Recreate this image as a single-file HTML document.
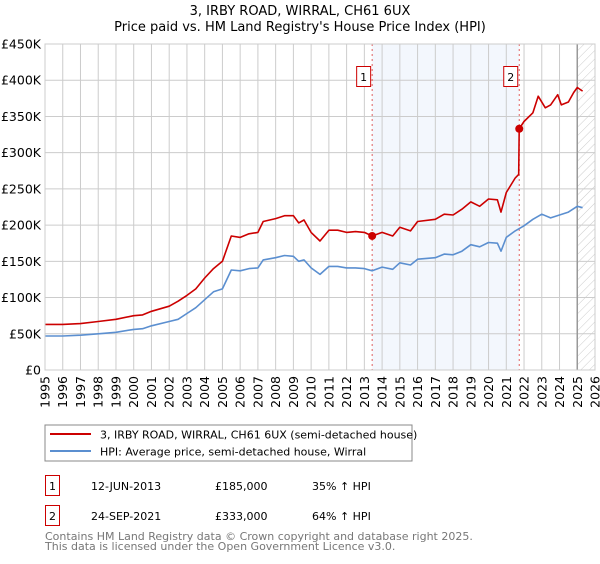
<!DOCTYPE html>
<html><head><meta charset="utf-8"><style>
body{margin:0;background:#fff;font-family:"DejaVu Sans","Liberation Sans",sans-serif;}
svg text{font-family:"DejaVu Sans","Liberation Sans",sans-serif;}
</style></head><body>
<svg id="c" width="600" height="560" viewBox="0 0 600 560" xmlns="http://www.w3.org/2000/svg">
<defs><pattern id="hatch" width="6" height="6" patternUnits="userSpaceOnUse" patternTransform="rotate(45)"><line x1="0" y1="0" x2="0" y2="6" stroke="#ccc" stroke-width="1"/></pattern></defs>
<text x="300" y="15" text-anchor="middle" font-size="13" fill="#000">3, IRBY ROAD, WIRRAL, CH61 6UX</text>
<text x="300" y="31" text-anchor="middle" font-size="13" fill="#000">Price paid vs. HM Land Registry's House Price Index (HPI)</text>
<g id="plot"></g>
<rect x="45" y="425" width="367" height="36" fill="#fff" stroke="#888"/>
<line x1="50" y1="434" x2="91" y2="434" stroke="#cc0000" stroke-width="2"/>
<text x="100" y="438.5" font-size="11">3, IRBY ROAD, WIRRAL, CH61 6UX (semi-detached house)</text>
<line x1="50" y1="451" x2="91" y2="451" stroke="#5b8fd0" stroke-width="2"/>
<text x="100" y="455.5" font-size="11">HPI: Average price, semi-detached house, Wirral</text>
<g>
<rect x="45.5" y="475.5" width="14" height="20" fill="none" stroke="#cc0000"/>
<text x="52.5" y="490" font-size="11" text-anchor="middle">1</text>
<text x="91" y="490" font-size="11">12-JUN-2013</text>
<text x="215" y="490" font-size="11">£185,000</text>
<text x="312" y="490" font-size="11">35% ↑ HPI</text></g>
<g>
<rect x="45.5" y="505.5" width="14" height="20" fill="none" stroke="#cc0000"/>
<text x="52.5" y="520" font-size="11" text-anchor="middle">2</text>
<text x="91" y="520" font-size="11">24-SEP-2021</text>
<text x="215" y="520" font-size="11">£333,000</text>
<text x="312" y="520" font-size="11">64% ↑ HPI</text></g>
<text x="45" y="540" font-size="11" fill="#777">Contains HM Land Registry data © Crown copyright and database right 2025.</text>
<text x="45" y="550" font-size="11" fill="#777">This data is licensed under the Open Government Licence v3.0.</text>
</svg>
<script>
const hpiYears=[1995,1996,1997,1998,1999,2000,2000.5,2001,2002,2002.5,2003,2003.5,2004,2004.5,2005,2005.5,2006,2006.5,2007,2007.3,2008,2008.5,2009,2009.3,2009.6,2010,2010.5,2011,2011.5,2012,2012.5,2013,2013.44,2014,2014.6,2015,2015.6,2016,2017,2017.5,2018,2018.5,2019,2019.5,2020,2020.5,2020.7,2021,2021.5,2022,2022.5,2023,2023.5,2024,2024.5,2025,2025.3];
const hpiValues=[47,47,48,50,52,56,57,61,67,70,78,86,97,108,112,138,137,140,141,152,155,158,157,150,152,141,132,143,143,141,141,140,137,142,139,148,145,153,155,160,159,164,173,170,176,175,164,183,192,199,208,215,210,214,218,226,224];
const priceYears=[1995,1996,1997,1998,1999,2000,2000.5,2001,2002,2002.5,2003,2003.5,2004,2004.5,2005,2005.5,2006,2006.5,2007,2007.3,2008,2008.5,2009,2009.3,2009.6,2010,2010.5,2011,2011.5,2012,2012.5,2013,2013.44,2014,2014.6,2015,2015.6,2016,2017,2017.5,2018,2018.5,2019,2019.5,2020,2020.5,2020.7,2021,2021.5,2021.7,2021.73,2022,2022.5,2022.8,2023.2,2023.5,2023.9,2024.1,2024.5,2024.8,2025,2025.3];
const priceValues=[63,63,64,67,70,75,76,81,88,95,103,112,127,140,150,185,183,188,190,205,209,213,213,203,207,190,178,193,193,190,191,190,185,190,185,197,192,205,208,215,214,222,232,226,236,235,218,245,265,270,333,343,355,378,362,366,380,366,370,383,390,385];
const saleYears=[2013.44,2021.73];
const saleValues=[185,333];
const saleLabels=["1","2"];
const yTicks=[0,50,100,150,200,250,300,350,400,450];
const yTickLabels=["£0","£50K","£100K","£150K","£200K","£250K","£300K","£350K","£400K","£450K"];
const xTicks=[1995,1996,1997,1998,1999,2000,2001,2002,2003,2004,2005,2006,2007,2008,2009,2010,2011,2012,2013,2014,2015,2016,2017,2018,2019,2020,2021,2022,2023,2024,2025,2026];

const L=45,R=595,T=44,B=370,X0=1995,X1=2026,YMAX=450;
const xs=v=>L+(v-X0)/(X1-X0)*(R-L);
const ys=v=>B-v/YMAX*(B-T);
const NS="http://www.w3.org/2000/svg";
const g=document.getElementById('plot');
function mk(t,a,p){const e=document.createElementNS(NS,t);for(const k in a)e.setAttribute(k,a[k]);(p||g).appendChild(e);return e;}
let e;
e=mk('rect',{x:xs(saleYears[0]),y:T,width:xs(saleYears[1])-xs(saleYears[0]),height:B-T,fill:'#eef3fc',opacity:0.7});


e=mk('rect',{x:xs(2025),y:T,width:R-xs(2025),height:B-T,fill:'url(#hatch)'});


yTicks.forEach((v,i)=>{
 e=mk('line',{x1:L,x2:R,y1:ys(v),y2:ys(v),stroke:'#ccc'});
 
 
 e=mk('text',{x:L-4,y:ys(v)+4.5,'text-anchor':'end','font-size':'12.5',fill:'#000'});
 e.textContent=yTickLabels[i];
 
 
});
xTicks.forEach(v=>{
 e=mk('line',{x1:xs(v),x2:xs(v),y1:T,y2:B,stroke:'#ccc'});
 
 
 e=mk('text',{x:0,y:0,'font-size':'12.5',fill:'#000','text-anchor':'end',transform:`translate(${xs(v)+4.5},${B+6}) rotate(-90)`});
 e.textContent=v;
 
 
});
e=mk('line',{x1:xs(2025),x2:xs(2025),y1:T,y2:B,stroke:'#999','stroke-width':1.5});


saleYears.forEach((v,i)=>{
 e=mk('line',{x1:xs(v),x2:xs(v),y1:T,y2:B,stroke:'#e06060','stroke-dasharray':'2,3'});
 
 
 const bx=xs(v)-10;
 e=mk('rect',{x:bx-5.5,y:66.5,width:14,height:20,fill:'#fff',stroke:'#cc0000'});
 
 
 e=mk('text',{x:bx+1.5,y:81,'text-anchor':'middle','font-size':'11'});
 e.textContent=saleLabels[i];
 
 
});
function path(xa,va,col,name){
 const d=xa.map((x,i)=>(i?'L':'M')+xs(x).toFixed(1)+','+ys(va[i]).toFixed(1)).join('');
 const p=mk('path',{d:d,fill:'none',stroke:col,'stroke-width':1.6,'stroke-linejoin':'round'});
 
 
}
path(hpiYears,hpiValues,'#5b8fd0','hpi-line');
path(priceYears,priceValues,'#cc0000','price-line');
saleYears.forEach((v,i)=>{
 e=mk('circle',{cx:xs(v),cy:ys(saleValues[i]),r:4,fill:'#cc0000'});
 
 
});
e=mk('rect',{x:L,y:T,width:R-L,height:B-T,fill:'none',stroke:'#ccc'});


</script>
</body></html>
